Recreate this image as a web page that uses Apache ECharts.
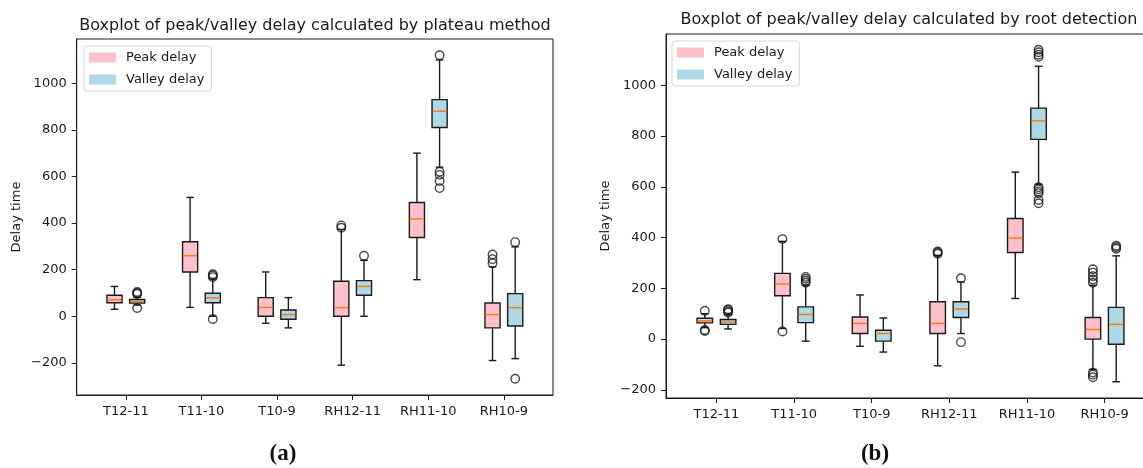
<!DOCTYPE html>
<html><head><meta charset="utf-8">
<script src="https://cdn.jsdelivr.net/npm/echarts@6/dist/echarts.min.js"></script>
<style>html,body{margin:0;padding:0;background:#fff}#c{width:1143px;height:468px}</style>
</head><body><div id="c"></div><script>
// ---------- data ----------
const categories = ['T12-11', 'T11-10', 'T10-9', 'RH12-11', 'RH11-10', 'RH10-9'];
const yTicks = [-200, 0, 200, 400, 600, 800, 1000];

// [lower whisker, Q1, median, Q3, upper whisker]
const plateauPeak = [
  [30, 58, 70, 90, 128],
  [38, 190, 260, 320, 510],
  [-30, 0, 38, 80, 190],
  [-210, 0, 37, 150, 372],
  [157, 338, 418, 488, 700],
  [-190, -50, 7, 57, 212]
];
const plateauPeakOut = [[], [], [], [380, 390], [], [228, 245, 265]];
const plateauValley = [
  [48, 57, 62, 72, 82],
  [0, 58, 79, 99, 160],
  [-50, -13, 7, 27, 80],
  [0, 90, 128, 153, 240],
  [640, 810, 880, 930, 1100],
  [-182, -42, 37, 97, 298]
];
const plateauValleyOut = [[35, 96, 100, 104], [-12, 168, 175, 180], [], [260], [550, 580, 607, 620, 1120], [-268, 318]];

const rootPeak = [
  [45, 64, 72, 82, 100],
  [42, 171, 217, 259, 385],
  [-28, 22, 62, 87, 174],
  [-105, 22, 62, 147, 330],
  [160, 341, 398, 475, 658],
  [-120, 0, 38, 85, 212]
];
const rootPeakOut = [[32, 36, 112], [30, 394], [], [336, 341, 345], [], [-150, -140, -132, 222, 235, 248, 262, 275]];
const rootValley = [
  [40, 58, 67, 77, 97],
  [-8, 65, 97, 127, 212],
  [-51, -8, 22, 35, 83],
  [22, 85, 119, 147, 225],
  [610, 787, 860, 910, 1075],
  [-168, -20, 58, 125, 328]
];
const rootValleyOut = [[105, 110, 115, 118], [222, 230, 238, 245], [], [-12, 240], [535, 548, 575, 582, 590, 598, 1112, 1120, 1130, 1140], [356, 362, 368]];

// ---------- styling ----------
const FONT = 'DejaVu Sans';
const INK = '#1a1a1a';
const PINK = '#ffc0cb';
const BLUE = '#add8e6';
const MEDIAN = '#ff7f0e';
const OFFSET = 0.15;
const HALF = 0.1;

function boxSeries(name, stats, offset, color, idx) {
  return {
    type: 'custom', name: name, xAxisIndex: idx, yAxisIndex: idx,
    itemStyle: { color: color },
    encode: { x: 0, y: [1, 2, 3, 4, 5] },
    data: stats.map((s, i) => [i + 1 + offset].concat(s)),
    z: 2,
    renderItem: function (params, api) {
      const x = api.value(0);
      const lo = api.value(1), q1 = api.value(2), md = api.value(3), q3 = api.value(4), hi = api.value(5);
      const tl = api.coord([x - HALF, q3]);
      const br = api.coord([x + HALF, q1]);
      const cx = api.coord([x, 0])[0];
      const c1 = api.coord([x - HALF / 2, 0])[0];
      const c2 = api.coord([x + HALF / 2, 0])[0];
      const yLo = api.coord([x, lo])[1], yHi = api.coord([x, hi])[1], yMd = api.coord([x, md])[1];
      const ln = (x1, y1, x2, y2, stroke, w) => ({ type: 'line', shape: { x1: x1, y1: y1, x2: x2, y2: y2 }, style: { stroke: stroke, lineWidth: w } });
      return {
        type: 'group', children: [
          ln(cx, yLo, cx, br[1], INK, 1.4),
          ln(cx, tl[1], cx, yHi, INK, 1.4),
          ln(c1, yLo, c2, yLo, INK, 1.4),
          ln(c1, yHi, c2, yHi, INK, 1.4),
          { type: 'rect', shape: { x: tl[0], y: tl[1], width: br[0] - tl[0], height: br[1] - tl[1] }, style: { fill: api.visual('color'), stroke: INK, lineWidth: 1.4 } },
          ln(tl[0] + 0.7, yMd, br[0] - 0.7, yMd, MEDIAN, 1.5)
        ]
      };
    }
  };
}
function outlierSeries(outs, offset, idx) {
  const data = [];
  outs.forEach((arr, i) => arr.forEach(v => data.push([i + 1 + offset, v])));
  return {
    type: 'scatter', xAxisIndex: idx, yAxisIndex: idx, data: data, z: 3,
    symbol: 'circle', symbolSize: 8.5,
    itemStyle: { color: 'rgba(0,0,0,0)', borderColor: INK, borderWidth: 1.4 },
    emphasis: { disabled: true }, silent: true
  };
}
function xAxisOf(idx) {
  return {
    type: 'value', gridIndex: idx, min: 0.35, max: 6.65, position: 'bottom',
    axisLine: { show: true, onZero: false, lineStyle: { color: INK, width: 1 } }, splitLine: { show: false },
    axisTick: { show: true, length: 5, lineStyle: { color: INK, width: 1 }, customValues: [1, 2, 3, 4, 5, 6] },
    axisLabel: { customValues: [1, 2, 3, 4, 5, 6], formatter: v => categories[Math.round(v) - 1], margin: 10, color: INK, fontSize: 13, fontFamily: FONT }
  };
}
function yAxisOf(idx, min, max) {
  return {
    type: 'value', gridIndex: idx, min: min, max: max, position: 'left',
    name: 'Delay time', nameLocation: 'middle', nameRotate: 90, nameGap: 54,
    nameTextStyle: { color: INK, fontSize: 13, fontFamily: FONT },
    axisLine: { show: true, onZero: false, lineStyle: { color: INK, width: 1 } }, splitLine: { show: false },
    axisTick: { show: true, length: 5, lineStyle: { color: INK, width: 1 }, customValues: yTicks },
    axisLabel: { customValues: yTicks, margin: 10, color: INK, fontSize: 13, fontFamily: FONT, formatter: v => (v < 0 ? '\u2212' + Math.abs(v) : String(v)) }
  };
}
function legendOf(left, top) {
  return {
    left: left, top: top, orient: 'vertical', itemWidth: 27, itemHeight: 10, itemGap: 9,
    backgroundColor: '#fff', borderColor: '#d8d8d8', borderWidth: 1, borderRadius: 3, padding: [5, 7, 5, 5],
    textStyle: { color: INK, fontSize: 13, fontFamily: FONT, padding: [0, 0, 0, 5] },
    selectedMode: false,
    data: [
      { name: 'Peak delay', icon: 'rect', itemStyle: { color: PINK, borderWidth: 0 } },
      { name: 'Valley delay', icon: 'rect', itemStyle: { color: BLUE, borderWidth: 0 } }
    ]
  };
}
const captionRich = {
  p: { fontFamily: 'Liberation Serif', fontSize: 23, color: '#111' },
  b: { fontFamily: 'Liberation Serif', fontSize: 23, fontWeight: 'bold', color: '#111' }
};

const chart = echarts.init(document.getElementById('c'), null, { renderer: 'canvas' });
chart.setOption({
  backgroundColor: '#fff',
  animation: false,
  title: [
    { text: 'Boxplot of peak/valley delay calculated by plateau method', left: 315, top: 18, textAlign: 'center', padding: 0, textStyle: { color: INK, fontSize: 16, fontWeight: 'normal', fontFamily: FONT } },
    { text: 'Boxplot of peak/valley delay calculated by root detection', left: 909, top: 12, textAlign: 'center', padding: 0, textStyle: { color: INK, fontSize: 16, fontWeight: 'normal', fontFamily: FONT } },
    { text: '{p|(}{b|a}{p|)}', left: 283, top: 443, textAlign: 'center', padding: 0, textStyle: { rich: captionRich } },
    { text: '{p|(}{b|b}{p|)}', left: 875, top: 443, textAlign: 'center', padding: 0, textStyle: { rich: captionRich } }
  ],
  legend: [legendOf(84, 46), legendOf(672, 41)],
  grid: [
    { left: 76.7, top: 39, width: 476.3, height: 356, show: true, borderColor: INK, borderWidth: 1, backgroundColor: '#fff', containLabel: false, outerBoundsMode: 'none' },
    { left: 666, top: 34, width: 489, height: 364, show: true, borderColor: INK, borderWidth: 1, backgroundColor: '#fff', containLabel: false, outerBoundsMode: 'none' }
  ],
  xAxis: [xAxisOf(0), xAxisOf(1)],
  yAxis: [yAxisOf(0, -338, 1190), yAxisOf(1, -232, 1202)],
  series: [
    boxSeries('Peak delay', plateauPeak, -OFFSET, PINK, 0),
    boxSeries('Valley delay', plateauValley, OFFSET, BLUE, 0),
    outlierSeries(plateauPeakOut, -OFFSET, 0),
    outlierSeries(plateauValleyOut, OFFSET, 0),
    boxSeries('Peak delay', rootPeak, -OFFSET, PINK, 1),
    boxSeries('Valley delay', rootValley, OFFSET, BLUE, 1),
    outlierSeries(rootPeakOut, -OFFSET, 1),
    outlierSeries(rootValleyOut, OFFSET, 1)
  ]
});
</script></body></html>
